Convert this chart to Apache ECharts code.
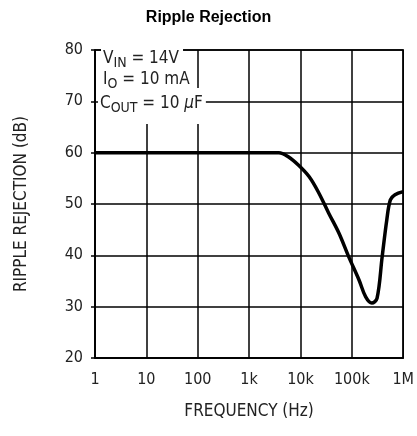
<!DOCTYPE html>
<html><head><meta charset="utf-8">
<script src="https://cdn.jsdelivr.net/npm/echarts@6/dist/echarts.min.js"></script>
<style>html,body{margin:0;padding:0;background:#fff}#c{width:417px;height:436px}</style>
</head><body><div id="c"></div>
<script>
var freqHz = [1, 3000, 3800, 5600, 9300, 14800, 22900, 35500, 56200, 87100, 138000, 186000, 245000, 309000, 389000, 479000, 562000, 692000, 1000000];
var rejectionDb = [60, 60, 60, 59.3, 57.5, 55.3, 52.1, 48.2, 44.3, 39.7, 35.2, 31.9, 30.7, 31.6, 39.7, 46.9, 50.8, 51.8, 52.4];
var xTickLabels = {1:'1', 10:'10', 100:'100', 1000:'1k', 10000:'10k', 100000:'100k', 1000000:'1M'};
var yTicks = [20, 30, 40, 50, 60, 70, 80];

var F = 'DejaVu Sans Condensed';
var chart = echarts.init(document.getElementById('c'));
var data = freqHz.map(function(f, i){ return [f, rejectionDb[i]]; });
var lab = {fontFamily:F, fontSize:16, color:'#222'};
var m = {fontFamily:F, fontSize:17, fill:'#222'};
var s = {fontFamily:F, fontSize:14, fill:'#222', padding:[9,0,0,0]};
chart.setOption({
  animation:false,
  backgroundColor:'#fff',
  title:{text:'Ripple Rejection', left:'center', top:5, textStyle:{fontFamily:'Liberation Sans', fontWeight:'bold', fontSize:16, color:'#000'}},
  grid:{left:95, right:12, top:50, bottom:78, show:true, borderColor:'#000', borderWidth:1.5},
  xAxis:{type:'log', logBase:10, min:1, max:1000000,
    name:'FREQUENCY (Hz)', nameLocation:'middle', nameGap:45, nameTextStyle:{fontFamily:F, fontSize:17, color:'#222'},
    axisLine:{lineStyle:{color:'#000', width:1.5}}, axisTick:{show:false},
    axisLabel:Object.assign({margin:14, formatter:function(v){ return xTickLabels[Math.round(v)] || ''; }}, lab),
    splitLine:{show:true, lineStyle:{color:'#000', width:1.5}}, minorTick:{show:false}},
  yAxis:{type:'value', min:yTicks[0], max:yTicks[yTicks.length-1], interval:10,
    name:'RIPPLE REJECTION (dB)', nameLocation:'middle', nameGap:65, nameTextStyle:{fontFamily:F, fontSize:17, color:'#222'},
    axisLine:{show:true, lineStyle:{color:'#000', width:1.5}}, axisTick:{show:true, length:4, lineStyle:{color:'#000', width:1.5}},
    axisLabel:Object.assign({margin:12}, lab),
    splitLine:{show:true, lineStyle:{color:'#000', width:1.5}}},
  series:[{type:'line', data:data, smooth:0.35, showSymbol:false, lineStyle:{color:'#000', width:3.5}, z:5}],
  graphic:[
    {type:'text', left:101, top:47, z:100, style:{text:'{m|V}{s|IN}{m| = 14V}', backgroundColor:'#fff', padding:[0,4,4,2], rich:{m:m, s:s}}},
    {type:'text', left:101, top:68, z:101, style:{text:'{m|I}{s|O}{m| = 10 mA}', backgroundColor:'#fff', padding:[0,4,4,2], rich:{m:m, s:s}}},
    {type:'text', left:98, top:88, z:102, style:{text:'{m|C}{s|OUT}{m| = 10 }{i|μ}{m|F}', backgroundColor:'#fff', padding:[4,3,9,2], rich:{m:m, s:s, i:{fontFamily:F, fontStyle:'italic', fontSize:17, fill:'#222'}}}}
  ]
});
</script></body></html>
